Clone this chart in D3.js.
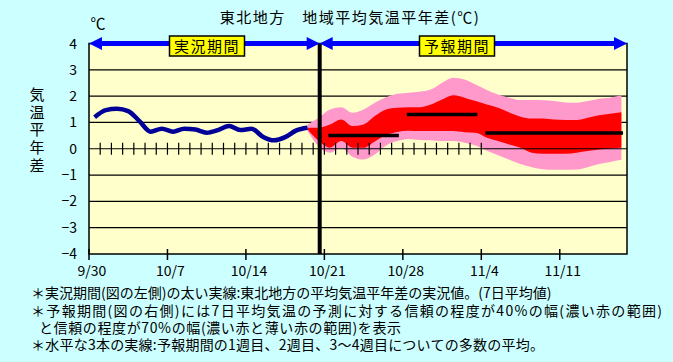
<!DOCTYPE html>
<html>
<head>
<meta charset="utf-8">
<script src="https://cdn.jsdelivr.net/npm/d3@7"></script>
<style>
  body { margin: 0; background: #ccffff; }
  text { font-family: "Noto Sans CJK JP", sans-serif; fill: #000; }
</style>
</head>
<body>
<svg id="chart"></svg>
<script>
// observed 7-day mean anomaly, daily from 9/30
var obsStart = new Date(2024, 8, 30);
var obsValues = [1.20, 1.47, 1.52, 1.43, 1.05, 0.65, 0.76, 0.65, 0.76, 0.73,
                 0.61, 0.71, 0.86, 0.71, 0.76, 0.46, 0.32, 0.44, 0.70, 0.80];

// forecast ranges, daily from 10/19
var fcStart = new Date(2024, 9, 19);
var hi70 = [0.92, 1.18, 1.49, 1.58, 1.37, 1.49, 1.75, 1.96, 2.09, 2.13,
            2.17, 2.25, 2.51, 2.70, 2.63, 2.44, 2.23, 2.06, 1.94, 1.85,
            1.85, 1.84, 1.81, 1.76, 1.75, 1.81, 1.90, 1.94, 2.03];
var hi40 = [0.80, 0.80, 0.92, 1.11, 0.86, 0.92, 1.24, 1.49, 1.56, 1.58,
            1.58, 1.68, 1.87, 2.03, 1.94, 1.81, 1.68, 1.56, 1.38, 1.22,
            1.15, 1.15, 1.11, 1.09, 1.09, 1.18, 1.27, 1.33, 1.39];
var lo40 = [0.73, 0.29, 0.04, 0.29, 0.04, 0.04, 0.28, 0.52, 0.64, 0.68,
            0.67, 0.67, 0.67, 0.67, 0.63, 0.61, 0.42, 0.29, 0.16, 0.04,
            -0.15, -0.19, -0.19, -0.19, -0.15, -0.09, -0.03, 0.01, 0.04];
var lo70 = [0.67, 0.08, -0.15, 0.04, -0.30, -0.41, -0.22, 0.12, 0.29, 0.37,
            0.33, 0.32, 0.29, 0.29, 0.23, 0.12, -0.08, -0.25, -0.42, -0.58,
            -0.70, -0.78, -0.80, -0.80, -0.79, -0.70, -0.58, -0.50, -0.42];

// weekly ensemble means
var weekStart = [new Date(2024, 9, 21), new Date(2024, 9, 28), new Date(2024, 10, 4)];
var weekEnd = [new Date(2024, 9, 27), new Date(2024, 10, 3), new Date(2024, 10, 16)];
var weekMean = [0.50, 1.30, 0.60];

var tickDates = [new Date(2024, 8, 30), new Date(2024, 9, 7), new Date(2024, 9, 14),
                 new Date(2024, 9, 21), new Date(2024, 9, 28), new Date(2024, 10, 4),
                 new Date(2024, 10, 11)];
var tickLabels = ['9/30', '10/7', '10/14', '10/21', '10/28', '11/4', '11/11'];
var yTicks = [4, 3, 2, 1, 0, -1, -2, -3, -4];
var boundary = new Date(2024, 9, 20, 14);

var notes = [
    '＊実況期間(図の左側)の太い実線:東北地方の平均気温平年差の実況値。(7日平均値)',
    '＊予報期間(図の右側)には7日平均気温の予測に対する信頼の程度が40%の幅(濃い赤の範囲)',
    'と信頼の程度が70%の幅(濃い赤と薄い赤の範囲)を表示',
    '＊水平な3本の実線:予報期間の1週目、2週目、3～4週目についての多数の平均。'
];
var noteX = [31, 31, 39, 31];
var noteWidth = [null, 631, 362, 513];

var width = 673, height = 362;
var pL = 89, pR = 627, pT = 43.5, pB = 254;

var DAY = 864e5;
function dayAt(start, i, h) { return new Date(+start + i * DAY + h * 3600e3); }

var xs = d3.scaleTime().domain([new Date(2024, 8, 30), new Date(2024, 10, 17)]).range([pL, pR]);
var ys = d3.scaleLinear().domain([-4, 4]).range([pB, pT]);

var svg = d3.select('#chart').attr('width', width).attr('height', height);

svg.append('rect').attr('width', width).attr('height', height).attr('fill', '#ccffff');
svg.append('rect')
    .attr('x', pL).attr('y', pT)
    .attr('width', pR - pL).attr('height', pB - pT)
    .attr('fill', '#ffffcc');

// grid
svg.append('g').selectAll('line').data([3, 2, 1, -1, -2, -3])
    .enter().append('line')
    .attr('x1', pL).attr('x2', pR)
    .attr('y1', function (d) { return ys(d); })
    .attr('y2', function (d) { return ys(d); })
    .attr('stroke', '#000').attr('stroke-width', 1.2);

// forecast bands
var fc = hi70.map(function (d, i) {
    return { t: dayAt(fcStart, i, 12), h70: hi70[i], h40: hi40[i], l40: lo40[i], l70: lo70[i] };
});
var curve = d3.curveMonotoneX;
svg.append('path').datum(fc)
    .attr('fill', '#ff99cc')
    .attr('d', d3.area().curve(curve)
        .x(function (d) { return xs(d.t); })
        .y0(function (d) { return ys(d.l70); })
        .y1(function (d) { return ys(d.h70); }));
svg.append('path').datum(fc)
    .attr('fill', '#ff0000')
    .attr('d', d3.area().curve(curve)
        .x(function (d) { return xs(d.t); })
        .y0(function (d) { return ys(d.l40); })
        .y1(function (d) { return ys(d.h40); }));

// zero line with daily ticks
svg.append('line')
    .attr('x1', pL).attr('x2', pR)
    .attr('y1', ys(0)).attr('y2', ys(0))
    .attr('stroke', '#000').attr('stroke-width', 1.2);
var dailyTicks = d3.timeDay.range(new Date(2024, 9, 1), new Date(2024, 10, 5));
svg.append('g').selectAll('line').data(dailyTicks)
    .enter().append('line')
    .attr('x1', function (d) { return xs(d); })
    .attr('x2', function (d) { return xs(d); })
    .attr('y1', ys(0) - 6).attr('y2', ys(0) + 6)
    .attr('stroke', '#000').attr('stroke-width', 1.2);

// observed line
svg.append('path').datum(obsValues)
    .attr('fill', 'none')
    .attr('stroke', '#000099')
    .attr('stroke-width', 4.5)
    .attr('d', d3.line().curve(curve)
        .x(function (d, i) { return xs(dayAt(obsStart, i, 12)); })
        .y(function (d) { return ys(d); }));

// weekly means
svg.append('g').selectAll('line').data(weekMean)
    .enter().append('line')
    .attr('x1', function (d, i) { return xs(dayAt(weekStart[i], 0, 8.5)); })
    .attr('x2', function (d, i) { return xs(dayAt(weekEnd[i], 0, 15.5)); })
    .attr('y1', function (d) { return ys(d); })
    .attr('y2', function (d) { return ys(d); })
    .attr('stroke', '#000').attr('stroke-width', 3.5);

// frame
svg.append('rect')
    .attr('x', pL).attr('y', pT)
    .attr('width', pR - pL).attr('height', pB - pT)
    .attr('fill', 'none').attr('stroke', '#000').attr('stroke-width', 1.5);

// bottom axis ticks and labels
svg.append('g').selectAll('line').data(tickDates)
    .enter().append('line')
    .attr('x1', function (d) { return xs(d); })
    .attr('x2', function (d) { return xs(d); })
    .attr('y1', pB - 5).attr('y2', pB + 6)
    .attr('stroke', '#000').attr('stroke-width', 1.5);
svg.append('g').selectAll('text').data(tickDates)
    .enter().append('text')
    .attr('x', function (d) { return xs(d) + 3; })
    .attr('y', 276)
    .attr('text-anchor', 'middle')
    .attr('font-size', 14)
    .text(function (d, i) { return tickLabels[i]; });

// y labels
svg.append('g').selectAll('text').data(yTicks)
    .enter().append('text')
    .attr('x', 77)
    .attr('y', function (d) { return ys(d) + 5; })
    .attr('text-anchor', 'end')
    .attr('font-size', 14)
    .text(function (d) { return d < 0 ? '\u2212' + Math.abs(d) : d; });

// boundary bar
svg.append('line')
    .attr('x1', xs(boundary)).attr('x2', xs(boundary))
    .attr('y1', pT).attr('y2', pB)
    .attr('stroke', '#000').attr('stroke-width', 4);

// period arrows
function arrow(x1, x2) {
    var g = svg.append('g').attr('fill', '#0000ff');
    g.append('rect').attr('x', x1 + 6).attr('y', pT - 2.5).attr('width', x2 - x1 - 12).attr('height', 5);
    g.append('path').attr('d', 'M' + x1 + ',' + pT + 'l13,-6.5v13z');
    g.append('path').attr('d', 'M' + x2 + ',' + pT + 'l-13,-6.5v13z');
}
arrow(pL, xs(boundary));
arrow(xs(boundary), pR);

function tag(cx, label) {
    svg.append('rect')
        .attr('x', cx - 37.5).attr('y', 36).attr('width', 75).attr('height', 20)
        .attr('fill', '#ffff00').attr('stroke', '#000').attr('stroke-width', 1.5);
    svg.append('text')
        .attr('x', cx).attr('y', 52)
        .attr('text-anchor', 'middle')
        .attr('font-size', 15)
        .attr('letter-spacing', 1.5)
        .text(label);
}
tag(207, '実況期間');
tag(457, '予報期間');

// titles
svg.append('text')
    .attr('x', 350).attr('y', 23)
    .attr('text-anchor', 'middle')
    .attr('font-size', 15)
    .attr('letter-spacing', 1.5)
    .text('東北地方　地域平均気温平年差(℃)');
svg.append('text')
    .attr('x', 98).attr('y', 29)
    .attr('text-anchor', 'middle')
    .attr('font-size', 15)
    .text('℃');
svg.append('text')
    .attr('x', 37).attr('y', 87)
    .attr('writing-mode', 'vertical-rl')
    .attr('font-size', 15)
    .attr('letter-spacing', 2.6)
    .text('気温平年差');

// footnotes
svg.append('g').selectAll('text').data(notes)
    .enter().append('text')
    .attr('x', function (d, i) { return noteX[i]; })
    .attr('y', function (d, i) { return [298, 316, 333, 350][i]; })
    .attr('font-size', 14)
    .attr('textLength', function (d, i) { return noteWidth[i]; })
    .attr('lengthAdjust', 'spacing')
    .text(function (d) { return d; });
</script>
</body>
</html>
